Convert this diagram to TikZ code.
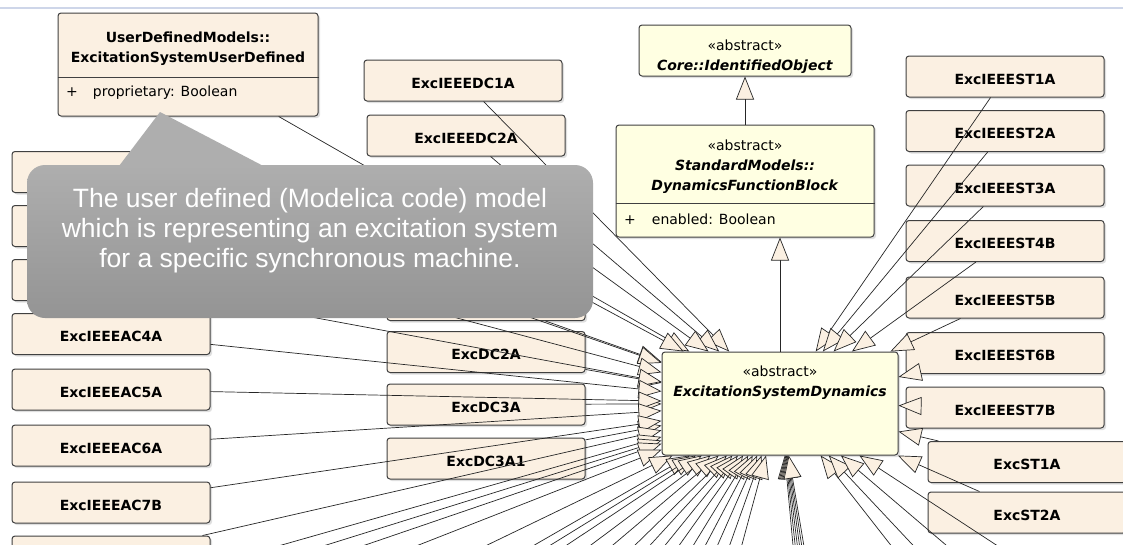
\documentclass[tikz,border=0pt]{standalone}
\usepackage{fontspec}
\setmainfont{DejaVu Sans}
\newfontfamily\notefont{Liberation Sans}
\usepackage{tikz}
\usetikzlibrary{arrows.meta,shadows}
\definecolor{excfill}{RGB}{251,240,226}
\definecolor{absfill}{RGB}{255,255,226}
\definecolor{umlline}{RGB}{64,64,64}
\definecolor{frameblue}{RGB}{206,214,233}
\definecolor{notetop}{RGB}{174,174,174}
\definecolor{notebottom}{RGB}{148,148,148}

\begin{document}
\begin{tikzpicture}[
    x=1pt, y=-1pt,
    every node/.style={font=\fontsize{14}{20}\selectfont},
    cls/.style={rectangle, draw=umlline, line width=1pt, rounded corners=3pt,
                drop shadow={shadow xshift=2pt, shadow yshift=-2pt, opacity=0.25}},
    exc/.style={cls, fill=excfill, minimum width=198pt, minimum height=41pt,
                text height=15pt, text depth=0pt, font=\fontsize{14}{20}\selectfont\bfseries},
    abs/.style={cls, fill=absfill},
    txt/.style={inner sep=0pt, align=center, anchor=north},
    attr/.style={inner sep=0pt, anchor=base west},
    gen/.style={-{Triangle[length=23pt, width=18pt, fill=excfill]}, line width=0.7pt, draw=black!85},
    note/.style={rectangle, rounded corners=18pt, top color=notetop, bottom color=notebottom,
                 minimum width=566pt, minimum height=153pt},
    notetext/.style={text=white, align=center, font=\notefont\fontsize{26.5}{30}\selectfont}
]
\useasboundingbox (0,0) rectangle (1123,544);
\clip (0,0) rectangle (1123,544);
\fill[white] (0,0) rectangle (1123,544);
\draw[frameblue, line width=2pt] (0,8) -- (1123,8);

\node[cls, fill=excfill, minimum width=260pt, minimum height=103pt] (ud) at (188,64.5) {};
\node[txt, font=\fontsize{14}{20}\selectfont\bfseries] (udname) at (188,32) {UserDefinedModels::\\ExcitationSystemUserDefined};
\draw[umlline, line width=1pt] (ud.west |- 0,77) -- (ud.east |- 0,77);
\node[attr] (udattr) at (66,96) {+\hspace{15pt}proprietary: Boolean};

\node[exc] (dc1a) at (463,80.5) {ExcIEEEDC1A};
\node[exc] (dc2a) at (466,135.5) {ExcIEEEDC2A};

\node[abs, minimum width=212pt, minimum height=51pt] (core) at (745,50.5) {};
\node[txt] (coretxt) at (745,39.5) {«abstract»\\\textbf{\textit{Core::IdentifiedObject}}};

\node[abs, minimum width=258pt, minimum height=112pt] (dfb) at (745,181) {};
\node[txt] (dfbtxt) at (745,139.4) {«abstract»\\\textbf{\textit{StandardModels::}}\\\textbf{\textit{DynamicsFunctionBlock}}};
\draw[umlline, line width=1pt] (dfb.west |- 0,203) -- (dfb.east |- 0,203);
\node[attr] (dfbattr) at (624,224) {+\hspace{16pt}enabled: Boolean};

\node[abs, minimum width=236pt, minimum height=103pt] (esd) at (780,403.5) {};
\node[txt] (esdtxt) at (780,365.4) {«abstract»\\\textbf{\textit{ExcitationSystemDynamics}}};

\node[exc] (st1a) at (1005,76.5) {ExcIEEEST1A};
\node[exc] (st2a) at (1005,131) {ExcIEEEST2A};
\node[exc] (st3a) at (1005,185.5) {ExcIEEEST3A};
\node[exc] (st4b) at (1005,241) {ExcIEEEST4B};
\node[exc] (st5b) at (1005,297.5) {ExcIEEEST5B};
\node[exc] (st6b) at (1005,353) {ExcIEEEST6B};
\node[exc] (st7b) at (1005,407.5) {ExcIEEEST7B};
\node[exc] (exst1a) at (1027,462) {ExcST1A};
\node[exc] (exst2a) at (1027,512.5) {ExcST2A};

\node[exc] (l1) at (111,172) {};
\node[exc] (l2) at (111,226) {};
\node[exc] (l3) at (111,280) {};
\node[exc] (ac4a) at (111,334) {ExcIEEEAC4A};
\node[exc] (ac5a) at (111,389.5) {ExcIEEEAC5A};
\node[exc] (ac6a) at (111,445.5) {ExcIEEEAC6A};
\node[exc] (ac7b) at (111,502.5) {ExcIEEEAC7B};
\node[exc] (ac8) at (111,556.5) {};

\node[exc] (m1) at (486,190) {};
\node[exc] (m2) at (486,245) {};
\node[exc] (m3) at (486,300) {};
\node[exc] (dc2) at (486,352) {ExcDC2A};
\node[exc] (dc3) at (486,404.5) {ExcDC3A};
\node[exc] (dc31) at (486,458.5) {ExcDC3A1};

\draw[gen] (dfb) -- (core);
\draw[gen] (esd) -- (esd |- dfb.south);

\foreach \src in {ud,dc1a,dc2a,m1,m2,m3,dc2,dc3,dc31,l1,l2,l3,ac4a,ac5a,ac6a,ac7b,ac8,
                  st1a,st2a,st3a,st4b,st5b,st6b,st7b,exst1a,exst2a}
  \draw[gen] (\src) -- (esd);

\foreach \x [count=\i] in {88.5,150,204.5,278.5,373.5,439,461.5,484,517.4,548,578.8,599.8,
                           620.7,640.3,659.9,676.6,693.4,710.2,727,
                           798,801,804,807,810,813,933.7,964.4,1010.5,1080.4}
  {\coordinate (low\i) at (\x,600);
   \draw[gen] (low\i) -- (esd);}

\coordinate (notetip) at (160,112);
\fill[notetop] (notetip) -- (116,170) -- (271,170) -- cycle;
\node[note] (note) at (310,241.5) {};
\node[notetext] (notetxt) at (310,231) {The user defined (Modelica code) model\\which is representing an excitation system\\for a specific synchronous machine.};
\end{tikzpicture}
\end{document}
